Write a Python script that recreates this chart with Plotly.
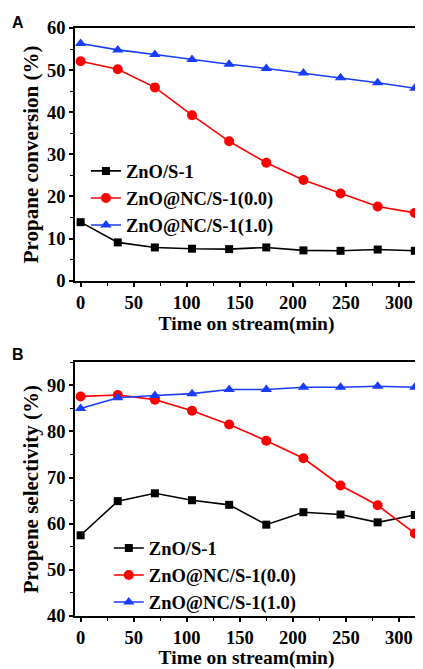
import plotly.graph_objects as go
from plotly.subplots import make_subplots

time_min = [0, 35, 70, 105, 140, 175, 210, 245, 280, 315]

# Panel A: Propane conversion (%)
conv_zno_s1 = [13.9, 9.1, 7.9, 7.6, 7.5, 7.9, 7.2, 7.1, 7.4, 7.1]
conv_nc00 = [52.1, 50.2, 45.9, 39.3, 33.1, 28.0, 23.9, 20.7, 17.6, 16.1]
conv_nc10 = [56.3, 54.8, 53.7, 52.5, 51.4, 50.4, 49.3, 48.2, 47.0, 45.7]

# Panel B: Propene selectivity (%)
sel_zno_s1 = [57.5, 64.9, 66.6, 65.1, 64.1, 59.8, 62.5, 62.0, 60.3, 61.9]
sel_nc00 = [87.6, 87.9, 86.9, 84.5, 81.5, 78.0, 74.2, 68.3, 64.0, 57.9]
sel_nc10 = [85.0, 87.3, 87.8, 88.2, 89.1, 89.1, 89.6, 89.6, 89.8, 89.6]

names = ["ZnO/S-1", "ZnO@NC/S-1(0.0)", "ZnO@NC/S-1(1.0)"]
colors = ["#000000", "#ff0000", "#1a3cff"]
symbols = ["square", "circle", "triangle-up"]
msizes = [8, 10, 10]

SERIF = "Liberation Serif, Times New Roman, serif"

# page body has an 8px margin; figure is sized to fit the 423x669 window
OFF = 8
W, H = 423 - OFF, 669 - OFF
L, R, T, B = 75 - OFF, 3, 28 - OFF, 50
pw, ph = W - L - R, H - T - B


def py2paper(py):
    return (H - B - (py - OFF)) / ph


def px2paper(px):
    return (px - OFF - L) / pw


fig = make_subplots(rows=2, cols=1, vertical_spacing=0.14)

for i, ys in enumerate([conv_zno_s1, conv_nc00, conv_nc10]):
    fig.add_trace(go.Scatter(x=time_min, y=ys, mode="lines+markers", name=names[i],
                             line=dict(color=colors[i], width=1.6),
                             marker=dict(symbol=symbols[i], size=msizes[i], color=colors[i]),
                             legend="legend", cliponaxis=False), row=1, col=1)
for i, ys in enumerate([sel_zno_s1, sel_nc00, sel_nc10]):
    fig.add_trace(go.Scatter(x=time_min, y=ys, mode="lines+markers", name=names[i],
                             line=dict(color=colors[i], width=1.6),
                             marker=dict(symbol=symbols[i], size=msizes[i], color=colors[i]),
                             legend="legend2", cliponaxis=False), row=2, col=1)

axis_common = dict(showline=True, linecolor="black", linewidth=1.6, mirror=True,
                   ticks="outside", ticklen=4, tickwidth=1.5, tickcolor="black",
                   showgrid=False, zeroline=False,
                   tickfont=dict(family=SERIF, size=18.5, color="black", weight="bold"))
title_font = dict(family=SERIF, size=19.5, color="black", weight="bold")
ytitle_font = dict(family=SERIF, size=21, color="black", weight="bold")

for r in (1, 2):
    fig.update_xaxes(range=[-5.3, 318], tickvals=[0, 50, 100, 150, 200, 250, 300],
                     minor=dict(ticks="outside", ticklen=3, tickwidth=1.3, tickcolor="black", dtick=25, tick0=0),
                     title=dict(text="Time on stream(min)", standoff=4, font=title_font),
                     row=r, col=1, **axis_common)

fig.update_yaxes(range=[0, 60], tickvals=[0, 10, 20, 30, 40, 50, 60],
                 minor=dict(ticks="outside", ticklen=3, tickwidth=1.3, tickcolor="black", dtick=5, tick0=0),
                 title=dict(text="Propane conversion (%)", standoff=3, font=ytitle_font),
                 row=1, col=1, **axis_common)
fig.update_yaxes(range=[40, 95], tickvals=[40, 50, 60, 70, 80, 90],
                 minor=dict(ticks="outside", ticklen=3, tickwidth=1.3, tickcolor="black", dtick=5, tick0=40),
                 title=dict(text="Propene selectivity (%)", standoff=3, font=ytitle_font),
                 row=2, col=1, **axis_common)

legend_font = dict(family=SERIF, size=18.5, color="black", weight="bold")
fig.update_layout(
    width=W, height=H,
    margin=dict(l=L, r=R, t=T, b=B),
    paper_bgcolor="white", plot_bgcolor="white",
    xaxis=dict(domain=[0, 1]), yaxis=dict(domain=[py2paper(282), 1.0]),
    xaxis2=dict(domain=[0, 1]), yaxis2=dict(domain=[0.0, py2paper(364)]),
    legend=dict(x=px2paper(86), y=py2paper(153), xanchor="left", yanchor="top",
                bgcolor="rgba(0,0,0,0)", font=legend_font, tracegroupgap=0, itemwidth=30),
    legend2=dict(x=px2paper(109), y=py2paper(532), xanchor="left", yanchor="top",
                 bgcolor="rgba(0,0,0,0)", font=legend_font, tracegroupgap=0, itemwidth=30),
)

for lab, px, py in [("A", 18, 22), ("B", 18, 356)]:
    fig.add_annotation(text=lab, x=px2paper(px), y=py2paper(py), xref="paper", yref="paper",
                       showarrow=False, xanchor="center", yanchor="middle",
                       font=dict(family="Liberation Sans, Arial, sans-serif", size=16,
                                 color="black", weight="bold"))

fig.write_html("out.html")
